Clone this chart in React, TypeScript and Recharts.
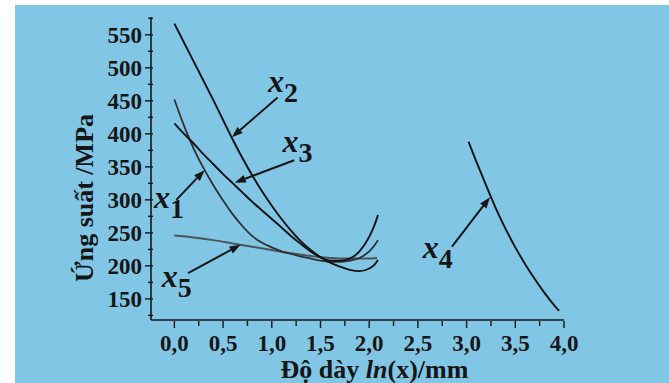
import { LineChart, Line, XAxis, YAxis, ReferenceLine, ReferenceDot, Label } from "recharts";

const FONT = "'Liberation Serif', 'DejaVu Serif', serif";
const INK = "#161616";
const PANEL = "#82c6e6";

// shared x grid for x1, x2, x3 (ln of thickness)
const GRID_X = [0, 0.1, 0.2, 0.3, 0.4, 0.5, 0.6, 0.7, 0.8, 0.9, 1.0, 1.1, 1.2, 1.3, 1.4, 1.5, 1.6, 1.7, 1.8, 1.9, 2.0, 2.05, 2.09];
const X1_Y = [452, 412, 377, 348, 322, 299, 278, 260, 245, 235, 228, 222, 218, 214, 211, 208, 206, 206, 208, 212, 222, 230, 239];
const X2_Y = [567, 538, 509, 480, 451, 421, 391, 363, 337, 313, 291, 271, 253, 237, 224, 213, 205, 199, 194, 192, 196, 201, 209];
const X3_Y = [416, 400, 385, 369, 354, 339, 325, 311, 297, 284, 271, 258, 245, 233, 222, 213, 208, 208, 211, 222, 244, 260, 277];

const X4_X = [3.02, 3.1, 3.2, 3.3, 3.4, 3.5, 3.6, 3.7, 3.8, 3.9, 3.95];
const X4_Y = [388, 358, 322, 287, 256, 228, 203, 180, 159, 140, 132];

const X5_X = [0, 0.2, 0.4, 0.6, 0.8, 1.0, 1.2, 1.4, 1.6, 1.8, 2.0, 2.08];
const X5_Y = [246, 243, 239, 234, 229, 224, 219, 215, 212, 211, 211, 212];

const X_TICKS = [0, 0.25, 0.5, 0.75, 1, 1.25, 1.5, 1.75, 2, 2.25, 2.5, 2.75, 3, 3.25, 3.5, 3.75, 4];
const Y_TICKS = [125, 150, 175, 200, 225, 250, 275, 300, 325, 350, 375, 400, 425, 450, 475, 500, 525, 550, 575];

// curve labels: [sub, x, y] and arrows [x from, y from, x tip, y tip]
const CURVE_LABELS: [string, number, number][] = [
  ["2", 0.96, 463],
  ["3", 1.11, 372],
  ["1", -0.21, 288],
  ["5", -0.13, 168],
  ["4", 2.55, 212],
];
const ARROWS: [number, number, number, number][] = [
  [1.06, 455, 0.59, 395],
  [1.23, 360, 0.62, 326],
  [0.02, 300, 0.31, 345],
  [0.14, 189, 0.68, 232],
  [2.85, 229, 3.24, 304],
];

const pts = (xs: number[], ys: number[]) => xs.map((x, i) => ({ x, y: ys[i] }));

const fmtX = (v: number) => v.toFixed(1).replace(".", ",");

const XTick = (props: any) => {
  const { x, y, payload } = props;
  const v = payload.value;
  const major = Math.abs(v * 2 - Math.round(v * 2)) < 1e-6;
  const top = y - 6;
  return (
    <g>
      <line x1={x} x2={x} y1={top - 1} y2={top + (major ? 6 : 4)} stroke={INK} strokeWidth={1.4} />
      {major && (
        <text x={x} y={top + 29} textAnchor="middle" fontFamily={FONT} fontWeight="bold" fontSize={23} fill={INK}>
          {fmtX(v)}
        </text>
      )}
    </g>
  );
};

const YTick = (props: any) => {
  const { x, y, payload } = props;
  const v = payload.value;
  const major = v % 50 === 0;
  const right = x + 9;
  return (
    <g>
      <line x1={right + 1} x2={right - (major ? 7 : 4)} y1={y} y2={y} stroke={INK} strokeWidth={1.4} />
      {major && (
        <text x={right - 10} y={y + 8} textAnchor="end" fontFamily={FONT} fontWeight="bold" fontSize={23} fill={INK}>
          {v}
        </text>
      )}
    </g>
  );
};

const Arrow = (p: any) => {
  const { x1, y1, x2, y2 } = p;
  const a = Math.atan2(y2 - y1, x2 - x1);
  const L = 11;
  const W = 4;
  const bx = x2 - L * Math.cos(a);
  const by = y2 - L * Math.sin(a);
  const nx = -Math.sin(a) * W;
  const ny = Math.cos(a) * W;
  return (
    <g>
      <line x1={x1} y1={y1} x2={bx} y2={by} stroke={INK} strokeWidth={2} />
      <polygon points={`${x2},${y2} ${bx + nx},${by + ny} ${bx - nx},${by - ny}`} fill={INK} />
    </g>
  );
};

const curveLabel = (sub: string) => (p: any) => (
  <text x={p.cx} y={p.cy} fontFamily={FONT} fill={INK}>
    <tspan fontStyle="italic" fontWeight="bold" fontSize={32}>x</tspan>
    <tspan fontWeight="bold" fontSize={28} dy={10}>{sub}</tspan>
  </text>
);

export default function App() {
  return (
    <div style={{ position: "absolute", left: 0, top: 0, width: 669, height: 383, background: "#ffffff" }}>
      <div style={{ position: "absolute", left: 15, top: 5, width: 654, height: 378, background: PANEL }} />
      <div style={{ position: "absolute", left: 0, top: 0 }}>
        <LineChart width={669} height={383} margin={{ top: 17, right: 105, bottom: 0, left: 0 }}>
          <XAxis
            type="number"
            dataKey="x"
            domain={[-0.24, 4.0]}
            allowDataOverflow
            ticks={X_TICKS}
            interval={0}
            height={63}
            tick={<XTick />}
            tickLine={false}
            axisLine={{ stroke: INK, strokeWidth: 1.6 }}
          >
            <Label
              content={(p: any) => {
                const vb = p.viewBox;
                return (
                  <text x={vb.x + vb.width / 2 + 17} y={vb.y + 58} textAnchor="middle" fontFamily={FONT} fontWeight="bold" fontSize={26} fill={INK}>
                    Độ dày <tspan fontStyle="italic">ln</tspan>(x)/mm
                  </text>
                );
              }}
            />
          </XAxis>
          <YAxis
            type="number"
            dataKey="y"
            domain={[118, 577]}
            allowDataOverflow
            ticks={Y_TICKS}
            interval={0}
            width={151}
            tick={<YTick />}
            tickLine={false}
            axisLine={{ stroke: INK, strokeWidth: 1.6 }}
          >
            <Label
              content={(p: any) => {
                const vb = p.viewBox;
                const cx = vb.x + 84;
                const cy = 198;
                return (
                  <text x={cx} y={cy} transform={`rotate(-90 ${cx} ${cy})`} textAnchor="middle" dominantBaseline="central" fontFamily={FONT} fontWeight="bold" fontSize={26} fill={INK}>
                    Ứng suất /MPa
                  </text>
                );
              }}
            />
          </YAxis>
          <Line data={pts(X5_X, X5_Y)} dataKey="y" type="monotone" stroke="#4c5458" strokeWidth={2} dot={false} isAnimationActive={false} />
          <Line data={pts(GRID_X, X1_Y)} dataKey="y" type="monotone" stroke="#2e3133" strokeWidth={1.8} dot={false} isAnimationActive={false} />
          <Line data={pts(GRID_X, X3_Y)} dataKey="y" type="monotone" stroke="#121212" strokeWidth={1.9} dot={false} isAnimationActive={false} />
          <Line data={pts(GRID_X, X2_Y)} dataKey="y" type="monotone" stroke="#121212" strokeWidth={1.9} dot={false} isAnimationActive={false} />
          <Line data={pts(X4_X, X4_Y)} dataKey="y" type="natural" stroke="#121212" strokeWidth={1.9} dot={false} isAnimationActive={false} />
          {ARROWS.map((a, i) => (
            <ReferenceLine
              key={`a${i}`}
              segment={[{ x: a[0], y: a[1] }, { x: a[2], y: a[3] }]}
              ifOverflow="visible"
              shape={Arrow}
            />
          ))}
          {CURVE_LABELS.map((c) => (
            <ReferenceDot key={`l${c[0]}`} x={c[1]} y={c[2]} r={0} ifOverflow="visible" shape={curveLabel(c[0])} />
          ))}
        </LineChart>
      </div>
    </div>
  );
}
